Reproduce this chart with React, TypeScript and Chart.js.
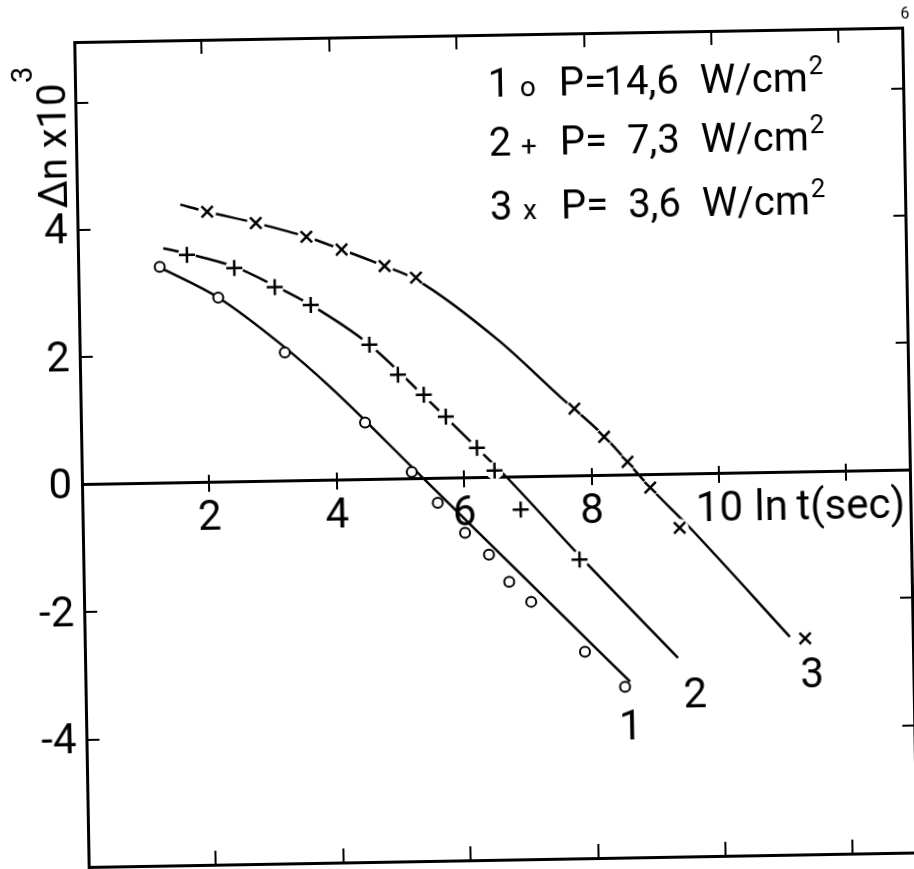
import React, { useEffect, useRef } from 'react';
import { Chart, registerables } from 'chart.js';

Chart.register(...registerables);

const FONT = "Roboto, 'Liberation Sans', sans-serif";

// ---- data (x = ln t(sec), y = Δn × 10^3) ----
// 1 : circles, P = 14,6 W/cm2
const S1_X = [1.28, 2.19, 3.22, 4.46, 5.18, 5.58, 6.0, 6.37, 6.68, 7.02, 7.85, 8.47];
const S1_Y = [3.4, 2.9, 2.02, 0.9, 0.11, -0.38, -0.86, -1.21, -1.64, -1.96, -2.76, -3.32];
// 2 : plus, P = 7,3 W/cm2
const S2_X = [1.71, 2.45, 3.08, 3.64, 4.55, 4.99, 5.39, 5.73, 6.21, 6.48, 6.88, 7.79];
const S2_Y = [3.58, 3.36, 3.05, 2.76, 2.12, 1.64, 1.32, 0.97, 0.47, 0.11, -0.51, -1.31];
// 3 : cross, P = 3,6 W/cm2
const S3_X = [2.04, 2.8, 3.59, 4.14, 4.81, 5.3, 7.75, 8.21, 8.57, 8.92, 9.37, 11.31];
const S3_Y = [4.25, 4.06, 3.83, 3.62, 3.35, 3.16, 1.06, 0.61, 0.21, -0.2, -0.84, -2.61];

// hand-drawn curves
const L1_X = [1.3, 2.19, 3.15, 3.92, 5.25, 6.85, 8.55];
const L1_Y = [3.38, 2.9, 2.16, 1.47, 0.12, -1.51, -3.24];
const L2_X = [1.34, 1.71, 2.45, 3.08, 3.64, 4.55, 5.39, 6.21, 6.67, 7.79, 9.31];
const L2_Y = [3.69, 3.6, 3.38, 3.07, 2.76, 2.12, 1.3, 0.47, 0.0, -1.25, -2.88];
const L3_X = [1.62, 2.04, 2.8, 3.59, 4.14, 4.81, 5.3, 6.57, 7.53, 8.21, 8.92, 9.53, 11.07];
const L3_Y = [4.37, 4.25, 4.06, 3.83, 3.62, 3.35, 3.13, 2.16, 1.25, 0.62, -0.2, -0.84, -2.58];

// curve numbers at line ends
const CURVE_NAMES = ['1', '2', '3'];
const CURVE_LABEL_X = [8.55, 9.57, 11.41];
const CURVE_LABEL_Y = [-3.92, -3.43, -3.14];

// legend
const LEGEND_NUM = ['1', '2', '3'];
const LEGEND_MARK = ['o', '+', 'x'];
const LEGEND_POWER = ['14,6', '7,3', '3,6'];
const LEGEND_X = 6.48;
const LEGEND_Y = [6.21, 5.29, 4.28];

// axes
const X_MIN = 0;
const X_MAX = 13;
const Y_MIN = -6;
const Y_MAX = 6.95;
const X_TICK_LABELS = [2, 4, 6, 8, 10];
const Y_TICK_LABELS = [-4, -2, 0, 2, 4];
const X_UNIT = 'ln\u2009t(sec)';
const Y_TITLE = 'Δn x10';
const Y_TITLE_EXP = '3';
const PAGE_NO = '6';

// ---- layout constants ----
const CW = 940;
const CH = 890;
const AREA_LEFT = 82;
const AREA_RIGHT = 910;
const AREA_TOP = 42;
const AREA_BOTTOM = 867;
const X0_TICK = 8;
const X0_PAD = 8;
const TICK_FONT = 42;

const pts = (xs: number[], ys: number[]) => xs.map((x, i) => ({ x, y: ys[i] }));

const frameGrid = (len: number) => ({
  display: true,
  drawOnChartArea: false,
  drawTicks: true,
  tickLength: len,
  color: '#000',
  lineWidth: 2,
});
const border = { display: true, color: '#000', width: 3 };

const fixSize = (prop: 'width' | 'height', val: number) => (s: any) => {
  s[prop] = val;
  s.paddingTop = 0;
  s.paddingBottom = 0;
  s.paddingLeft = 0;
  s.paddingRight = 0;
};

const textPlugin = {
  id: 'figureText',
  afterDraw(chart: any) {
    const { ctx, chartArea, scales } = chart;
    const xs = scales.x;
    const ys = scales.y;
    ctx.save();
    ctx.fillStyle = '#000';

    // legend
    for (let i = 0; i < LEGEND_NUM.length; i++) {
      const x0 = xs.getPixelForValue(LEGEND_X);
      const base = ys.getPixelForValue(LEGEND_Y[i]) + 15;
      ctx.textBaseline = 'alphabetic';
      ctx.font = `40px ${FONT}`;
      ctx.textAlign = 'left';
      ctx.fillText(LEGEND_NUM[i], x0, base);
      ctx.font = `28px ${FONT}`;
      ctx.textAlign = 'center';
      ctx.fillText(LEGEND_MARK[i], x0 + 40, base);
      ctx.font = `40px ${FONT}`;
      ctx.textAlign = 'left';
      ctx.fillText('P=', x0 + 71, base);
      ctx.textAlign = 'right';
      ctx.fillText(LEGEND_POWER[i], x0 + 191, base);
      ctx.textAlign = 'left';
      ctx.fillText('W/cm', x0 + 212, base);
      const w = ctx.measureText('W/cm').width;
      ctx.font = `26px ${FONT}`;
      ctx.fillText('2', x0 + 212 + w + 1, base - 17);
    }

    // curve numbers
    ctx.font = `${TICK_FONT}px ${FONT}`;
    ctx.textAlign = 'center';
    ctx.textBaseline = 'alphabetic';
    for (let i = 0; i < CURVE_NAMES.length; i++) {
      ctx.fillText(
        CURVE_NAMES[i],
        xs.getPixelForValue(CURVE_LABEL_X[i]),
        ys.getPixelForValue(CURVE_LABEL_Y[i]) + 15
      );
    }

    // x unit after "10"
    ctx.textAlign = 'left';
    ctx.textBaseline = 'middle';
    ctx.fillText(
      X_UNIT,
      xs.getPixelForValue(10) + 35,
      ys.getPixelForValue(0) + X0_TICK + X0_PAD + TICK_FONT / 2
    );

    // y title (rotated)
    ctx.save();
    ctx.translate(chartArea.left - 10, chartArea.top + 166);
    ctx.rotate(-Math.PI / 2);
    ctx.textAlign = 'left';
    ctx.textBaseline = 'alphabetic';
    ctx.font = `40px ${FONT}`;
    ctx.fillText(Y_TITLE, 0, 0);
    const tw = ctx.measureText(Y_TITLE).width;
    ctx.font = `29px ${FONT}`;
    ctx.fillText(Y_TITLE_EXP, tw + 1, -33);
    ctx.restore();

    // page number
    ctx.font = `16px ${FONT}`;
    ctx.textAlign = 'center';
    ctx.textBaseline = 'middle';
    ctx.fillText(PAGE_NO, chartArea.right + 3, chartArea.top - 13);

    ctx.restore();
  },
};

export default function App() {
  const ref = useRef<HTMLCanvasElement>(null);

  useEffect(() => {
    const canvas = ref.current;
    if (!canvas) return;
    const markerBase = {
      showLine: false,
      borderColor: '#000',
      pointBorderColor: '#000',
    };
    const chart = new Chart(canvas, {
      type: 'scatter',
      data: {
        datasets: [
          {
            ...markerBase,
            label: '1',
            data: pts(S1_X, S1_Y),
            pointStyle: 'circle',
            pointRadius: 5,
            pointBackgroundColor: '#fff',
            pointBorderWidth: 2,
          },
          {
            ...markerBase,
            label: '2',
            data: pts(S2_X, S2_Y),
            pointStyle: 'cross',
            pointRadius: 8,
            pointBorderWidth: 2.5,
          },
          {
            ...markerBase,
            label: '3',
            data: pts(S3_X, S3_Y),
            pointStyle: 'crossRot',
            pointRadius: 8,
            pointBorderWidth: 2.5,
          },
          {
            label: 'gap2',
            data: pts(S2_X, S2_Y),
            showLine: false,
            pointStyle: 'circle',
            pointRadius: 9,
            pointBorderWidth: 0,
            pointBackgroundColor: '#fff',
            pointBorderColor: '#fff',
          },
          {
            label: 'gap3',
            data: pts(S3_X, S3_Y),
            showLine: false,
            pointStyle: 'circle',
            pointRadius: 9,
            pointBorderWidth: 0,
            pointBackgroundColor: '#fff',
            pointBorderColor: '#fff',
          },
          {
            label: 'curve1',
            data: pts(L1_X, L1_Y),
            showLine: true,
            pointRadius: 0,
            borderColor: '#000',
            borderWidth: 2.5,
            cubicInterpolationMode: 'monotone',
          },
          {
            label: 'curve2',
            data: pts(L2_X, L2_Y),
            showLine: true,
            pointRadius: 0,
            borderColor: '#000',
            borderWidth: 2.5,
            cubicInterpolationMode: 'monotone',
          },
          {
            label: 'curve3',
            data: pts(L3_X, L3_Y),
            showLine: true,
            pointRadius: 0,
            borderColor: '#000',
            borderWidth: 2.5,
            cubicInterpolationMode: 'monotone',
          },
        ],
      },
      options: {
        animation: false,
        responsive: false,
        devicePixelRatio: 1,
        events: [],
        layout: { padding: 0, autoPadding: false },
        plugins: {
          legend: { display: false },
          tooltip: { enabled: false },
          title: { display: false },
        },
        scales: {
          x: {
            type: 'linear',
            position: 'bottom',
            min: X_MIN,
            max: X_MAX,
            z: 1,
            border,
            grid: frameGrid(-14),
            ticks: { display: false, stepSize: 2, includeBounds: false },
            afterFit: fixSize('height', CH - AREA_BOTTOM),
          },
          xTop: {
            type: 'linear',
            axis: 'x',
            position: 'top',
            min: X_MIN,
            max: X_MAX,
            z: 1,
            border,
            grid: frameGrid(-14),
            ticks: { display: false, stepSize: 2, includeBounds: false },
            afterFit: fixSize('height', AREA_TOP),
          },
          x0: {
            type: 'linear',
            axis: 'x',
            position: { y: 0 },
            min: X_MIN,
            max: X_MAX,
            z: 1,
            border,
            grid: frameGrid(X0_TICK),
            ticks: {
              display: true,
              stepSize: 2,
              includeBounds: false,
              autoSkip: false,
              maxRotation: 0,
              padding: X0_PAD,
              color: '#000',
              font: { family: FONT, size: TICK_FONT, lineHeight: 1 },
              callback: (v: any) => (X_TICK_LABELS.includes(Number(v)) ? String(v) : ''),
            },
            afterFit: fixSize('height', 0),
          },
          x0up: {
            type: 'linear',
            axis: 'x',
            position: { y: 0 },
            min: X_MIN,
            max: X_MAX,
            z: 1,
            border: { display: false },
            grid: frameGrid(-X0_TICK),
            ticks: { display: false, stepSize: 2, includeBounds: false },
            afterFit: fixSize('height', 0),
          },
          y: {
            type: 'linear',
            position: 'left',
            min: Y_MIN,
            max: Y_MAX,
            z: 1,
            border,
            grid: frameGrid(-13),
            ticks: {
              display: true,
              stepSize: 2,
              includeBounds: false,
              autoSkip: false,
              padding: 23,
              labelOffset: 3,
              color: '#000',
              font: { family: FONT, size: TICK_FONT, lineHeight: 1 },
              callback: (v: any) => (Y_TICK_LABELS.includes(Number(v)) ? String(v) : ''),
            },
            afterFit: fixSize('width', AREA_LEFT),
          },
          y2: {
            type: 'linear',
            axis: 'y',
            position: 'right',
            min: Y_MIN,
            max: Y_MAX,
            z: 1,
            border,
            grid: frameGrid(-12),
            ticks: { display: false, stepSize: 2, includeBounds: false },
            afterFit: fixSize('width', CW - AREA_RIGHT),
          },
        },
      } as any,
      plugins: [textPlugin],
    });
    return () => chart.destroy();
  }, []);

  return (
    <div
      style={{
        position: 'fixed',
        left: 0,
        top: 0,
        width: 914,
        height: 869,
        overflow: 'hidden',
        background: '#fff',
      }}
    >
      <canvas
        ref={ref}
        width={CW}
        height={CH}
        style={{
          position: 'absolute',
          left: 0,
          top: 0,
          width: `${CW}px`,
          height: `${CH}px`,
          transform: 'rotate(-1deg)',
          transformOrigin: `${AREA_LEFT}px 485px`,
        }}
      />
    </div>
  );
}
